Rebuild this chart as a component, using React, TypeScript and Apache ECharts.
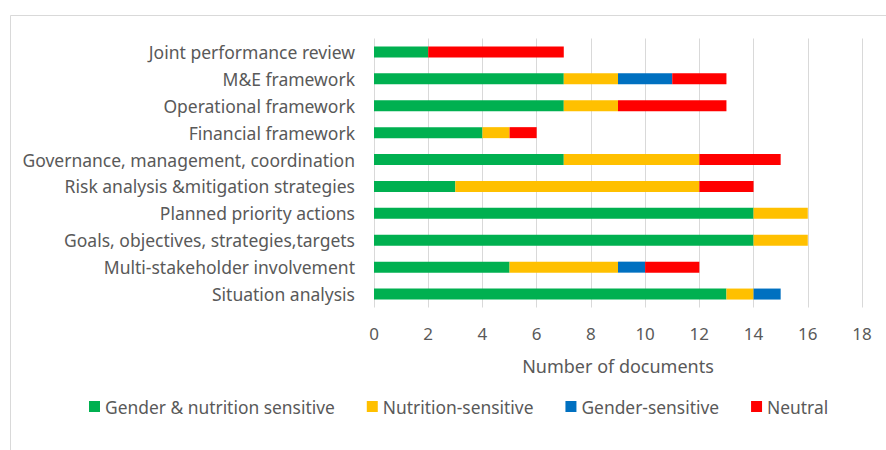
import React, { useEffect, useRef } from "react";
import * as echarts from "echarts";

const categories = [
  "Situation analysis",
  "Multi-stakeholder involvement",
  "Goals, objectives, strategies,targets",
  "Planned priority actions",
  "Risk analysis &mitigation strategies",
  "Governance, management, coordination",
  "Financial framework",
  "Operational framework",
  "M&E framework",
  "Joint performance review",
];
const genderNutrition = [13, 5, 14, 14, 3, 7, 4, 7, 7, 2];
const nutritionSensitive = [1, 4, 2, 2, 9, 5, 1, 2, 2, 0];
const genderSensitive = [1, 1, 0, 0, 0, 0, 0, 0, 2, 0];
const neutral = [0, 2, 0, 0, 2, 3, 1, 4, 2, 5];
const seriesNames = ["Gender & nutrition sensitive", "Nutrition-sensitive", "Gender-sensitive", "Neutral"];
const colors = ["#00B050", "#FFC000", "#0070C0", "#FF0000"];

const FONT = "'Noto Sans', sans-serif";

export default function App() {
  const ref = useRef<HTMLDivElement>(null);
  useEffect(() => {
    if (!ref.current) return;
    const chart = echarts.init(ref.current, null, { renderer: "svg" });
    const data = [genderNutrition, nutritionSensitive, genderSensitive, neutral];
    chart.setOption({
      animation: false,
      textStyle: { fontFamily: FONT },
      graphic: [
        {
          type: "rect",
          shape: { x: 10.5, y: 15.5, width: 900, height: 500 },
          style: { fill: "none", stroke: "#D9D9D9", lineWidth: 1 },
          silent: true,
        },
      ],
      grid: { left: 374, right: 24, top: 38.5, bottom: 142.5, containLabel: false },
      xAxis: {
        type: "value",
        min: 0,
        max: 18,
        interval: 2,
        axisLine: { show: false },
        axisTick: { show: false },
        axisLabel: { color: "#595959", fontSize: 17, margin: 17, fontFamily: FONT },
        splitLine: { show: true, lineStyle: { color: "#D9D9D9", width: 1 } },
        name: "Number of documents",
        nameLocation: "middle",
        nameGap: 49,
        nameTextStyle: { color: "#595959", fontSize: 18, fontFamily: FONT },
      },
      yAxis: {
        type: "category",
        data: categories,
        axisLine: { show: false },
        axisTick: { show: false },
        axisLabel: { color: "#595959", fontSize: 17.5, margin: 19, fontFamily: FONT },
      },
      legend: {
        left: 89,
        top: 398,
        padding: 0,
        itemWidth: 11,
        itemHeight: 11,
        itemGap: 32,
        icon: "rect",
        textStyle: { color: "#595959", fontSize: 17.4, fontFamily: FONT },
        data: seriesNames,
      },
      series: seriesNames.map((name, i) => ({
        name,
        type: "bar",
        stack: "total",
        barWidth: 11,
        itemStyle: { color: colors[i] },
        data: data[i],
      })),
    });
    return () => chart.dispose();
  }, []);
  return <div ref={ref} style={{ width: 886, height: 450, position: "absolute", left: 0, top: 0 }} />;
}
